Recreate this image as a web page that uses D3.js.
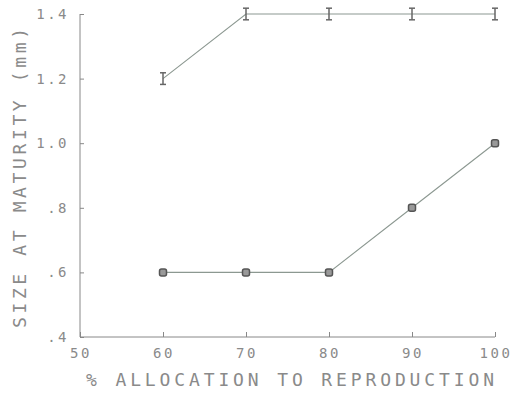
<!DOCTYPE html>
<meta charset="utf-8">
<script src="https://d3js.org/d3.v7.min.js"></script>
<style>
  body { margin: 0; background: #fff; }
  text { font-family: "DejaVu Sans Mono", monospace; fill: #8a8a8a; }
</style>
<div id="main"></div>
<script>
var width = 521
var height = 394

// data
var allocation = [60, 70, 80, 90, 100]
var upperSize = [1.2, 1.4, 1.4, 1.4, 1.4]
var upperErr = [0.018, 0.018, 0.018, 0.018, 0.018]
var lowerSize = [0.6, 0.6, 0.6, 0.8, 1.0]
var xTicks = [50, 60, 70, 80, 90, 100]
var yTicks = [0.4, 0.6, 0.8, 1.0, 1.2, 1.4]
var yTickLabels = [".4", ".6", ".8", "1.0", "1.2", "1.4"]

var svg = d3.select("#main")
  .append("svg")
    .attr("width", width)
    .attr("height", height)

var x = d3.scaleLinear().domain([50, 100]).range([80, 495])
var y = d3.scaleLinear().domain([0.4, 1.4]).range([337, 14])

var axisColor = "#888"
var lineColor = "#8c9891"

// y axis: ticks point into the plot
var yAxis = svg.append("g")
  .attr("transform", "translate(80,0)")
  .call(d3.axisRight(y).tickValues(yTicks).tickSize(4).tickFormat(""))
yAxis.select(".domain").attr("stroke", axisColor).attr("d", "M0," + y(1.4) + "V" + y(0.4))
yAxis.selectAll(".tick line").attr("stroke", axisColor)

svg.append("g").selectAll("text")
  .data(yTicks)
  .enter().append("text")
    .attr("x", 69)
    .attr("y", d => y(d) + 5)
    .attr("text-anchor", "end")
    .attr("font-size", 14)
    .attr("letter-spacing", 2.5)
    .text((d, i) => yTickLabels[i])

// x axis: ticks point up
var xAxis = svg.append("g")
  .attr("transform", "translate(0,337)")
  .call(d3.axisTop(x).tickValues(xTicks).tickSize(5).tickFormat(""))
xAxis.select(".domain").attr("stroke", axisColor).attr("d", "M" + x(50) + ",0H" + x(100))
xAxis.selectAll(".tick line").attr("stroke", axisColor)

svg.append("g").selectAll("text")
  .data(xTicks)
  .enter().append("text")
    .attr("x", d => x(d) + 1)
    .attr("y", 358)
    .attr("text-anchor", "middle")
    .attr("font-size", 14)
    .attr("letter-spacing", 2.5)
    .text(d => d)

// axis titles
svg.append("text")
  .attr("x", 86)
  .attr("y", 386)
  .attr("font-size", 18)
  .attr("textLength", 408)
  .attr("lengthAdjust", "spacing")
  .text("% ALLOCATION TO REPRODUCTION")

svg.append("text")
  .attr("transform", "translate(26,328) rotate(-90)")
  .attr("font-size", 18)
  .attr("textLength", 300)
  .attr("lengthAdjust", "spacing")
  .text("SIZE AT MATURITY (mm)")

var line = d3.line()
  .x(d => x(d[0]))
  .y(d => y(d[1]))

var upper = allocation.map((a, i) => [a, upperSize[i], upperErr[i]])
var lower = allocation.map((a, i) => [a, lowerSize[i]])

svg.append("path")
  .datum(upper)
  .attr("d", line)
  .attr("fill", "none")
  .attr("stroke", lineColor)
  .attr("stroke-width", 1.1)

svg.append("path")
  .datum(lower)
  .attr("d", line)
  .attr("fill", "none")
  .attr("stroke", lineColor)
  .attr("stroke-width", 1.1)

// error bar markers on upper series
var eb = svg.append("g").selectAll("g")
  .data(upper)
  .enter().append("g")
eb.append("line")
  .attr("x1", d => x(d[0])).attr("x2", d => x(d[0]))
  .attr("y1", d => y(d[1] + d[2])).attr("y2", d => y(d[1] - d[2]))
  .attr("stroke", "#666").attr("stroke-width", 1.5)
eb.append("line")
  .attr("x1", d => x(d[0]) - 3).attr("x2", d => x(d[0]) + 3)
  .attr("y1", d => y(d[1] + d[2])).attr("y2", d => y(d[1] + d[2]))
  .attr("stroke", "#666").attr("stroke-width", 1.5)
eb.append("line")
  .attr("x1", d => x(d[0]) - 3).attr("x2", d => x(d[0]) + 3)
  .attr("y1", d => y(d[1] - d[2])).attr("y2", d => y(d[1] - d[2]))
  .attr("stroke", "#666").attr("stroke-width", 1.5)

// square markers on lower series
svg.append("g").selectAll("rect")
  .data(lower)
  .enter().append("rect")
    .attr("x", d => x(d[0]) - 3.5)
    .attr("y", d => y(d[1]) - 3.5)
    .attr("width", 7)
    .attr("height", 7)
    .attr("rx", 2)
    .attr("fill", "#999")
    .attr("stroke", "#555")
    .attr("stroke-width", 1.5)
</script>
